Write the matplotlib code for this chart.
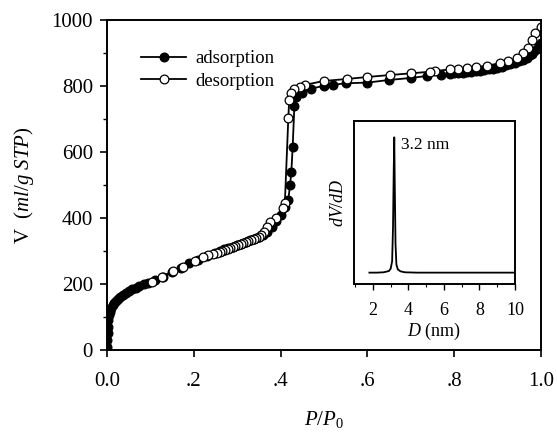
import matplotlib
matplotlib.use("Agg")
import matplotlib.pyplot as plt
from matplotlib.ticker import MultipleLocator, FixedFormatter, FixedLocator

plt.rcParams['font.family'] = ['Liberation Serif', 'DejaVu Serif']
plt.rcParams['mathtext.fontset'] = 'custom'
plt.rcParams['mathtext.rm'] = 'Liberation Serif'
plt.rcParams['mathtext.it'] = 'Liberation Serif:italic'

# adsorption branch (P/P0, V)
ads_p = [0.0, 0.0005, 0.001, 0.0015, 0.002, 0.003, 0.004, 0.006, 0.008, 0.010, 0.013,
         0.016, 0.020, 0.025, 0.030, 0.036, 0.043, 0.050, 0.058, 0.066, 0.075,
         0.085, 0.095, 0.11, 0.13, 0.15, 0.17, 0.19, 0.21, 0.23, 0.25, 0.26,
         0.27, 0.28, 0.29, 0.30, 0.31, 0.32, 0.33, 0.34, 0.35, 0.36, 0.37,
         0.38, 0.39, 0.40, 0.41, 0.418, 0.422, 0.425, 0.428, 0.432, 0.436,
         0.45, 0.47, 0.50, 0.52, 0.55, 0.60, 0.65, 0.70, 0.737, 0.77, 0.79,
         0.80, 0.81, 0.82, 0.83, 0.84, 0.85, 0.86, 0.87, 0.88, 0.89, 0.90,
         0.91, 0.92, 0.93, 0.94, 0.95, 0.96, 0.968, 0.975, 0.98, 0.985, 0.99,
         0.995, 1.0]
ads_v = [0, 10, 30, 50, 70, 90, 105, 115, 122, 128, 135,
         141, 147, 153, 159, 165, 171, 177, 183, 188, 193,
         199, 204, 212, 222, 236, 248, 262, 272, 284, 295, 300,
         305, 309, 313, 318, 322, 327, 332, 337, 342, 348, 358,
         372, 390, 410, 432, 455, 500, 540, 615, 740, 767,
         780, 792, 800, 803, 808, 810, 818, 824, 830, 834, 836,
         838, 839, 840, 842, 843, 845, 846, 848, 850, 852, 855,
         858, 862, 866, 870, 875, 880, 886, 893, 898, 905, 912,
         920, 930]

# desorption branch
des_p = [1.0, 0.987, 0.98, 0.97, 0.96, 0.945, 0.924, 0.906, 0.875, 0.85, 0.83,
         0.81, 0.79, 0.756, 0.744, 0.70, 0.652, 0.60, 0.553, 0.50, 0.456,
         0.445, 0.43, 0.425, 0.42, 0.418, 0.41, 0.405, 0.39, 0.375, 0.368,
         0.362, 0.356, 0.350, 0.344, 0.338, 0.332, 0.326, 0.320, 0.314, 0.308,
         0.302, 0.296, 0.290, 0.284, 0.278, 0.272, 0.266, 0.260, 0.254, 0.245,
         0.233, 0.222, 0.203, 0.176, 0.153, 0.126, 0.103]
des_v = [980, 960, 939, 915, 900, 884, 874, 869, 861, 857, 855,
         852, 850, 845, 843, 838, 833, 827, 821, 815, 803,
         797, 790, 779, 757, 702, 445, 430, 400, 388, 372,
         356, 347, 343, 339, 336, 333, 330, 327, 324, 321,
         318, 315, 312, 309, 306, 303, 300, 298, 295, 292,
         288, 281, 270, 252, 239, 221, 206]

# pore size distribution (inset)
psd_d = [1.8, 2.2, 2.6, 2.9, 3.0, 3.08, 3.13, 3.17, 3.2, 3.23, 3.27, 3.32,
         3.4, 3.55, 3.8, 4.5, 6.0, 8.0, 10.0]
psd_y = [0.07, 0.07, 0.072, 0.08, 0.095, 0.14, 0.35, 0.7, 0.9, 0.6, 0.25, 0.12,
         0.09, 0.078, 0.072, 0.07, 0.07, 0.07, 0.07]

fig = plt.figure(figsize=(5.57, 4.33), dpi=100)
ax = fig.add_axes([0.192, 0.192, 0.779, 0.762])

ax.plot(ads_p, ads_v, color='black', lw=1.3, marker='o', ms=6.3,
        mfc='black', mec='black', mew=0.9, label='adsorption')
ax.plot(des_p, des_v, color='black', lw=1.3, marker='o', ms=6.3,
        mfc='white', mec='black', mew=0.9, label='desorption')

ax.set_xlim(0, 1.0)
ax.set_ylim(0, 1000)
ax.xaxis.set_major_locator(FixedLocator([0, 0.2, 0.4, 0.6, 0.8, 1.0]))
ax.xaxis.set_major_formatter(FixedFormatter(['0.0', '.2', '.4', '.6', '.8', '1.0']))
ax.yaxis.set_major_locator(MultipleLocator(200))
ax.yaxis.set_minor_locator(MultipleLocator(100))
ax.tick_params(which='major', direction='out', length=5, width=1.2, labelsize=15)
ax.tick_params(axis='x', pad=11)
ax.tick_params(axis='y', pad=5)
ax.tick_params(which='minor', direction='out', length=3, width=1)
for s in ax.spines.values():
    s.set_linewidth(1.4)

ax.set_xlabel(r'$\mathit{P/P_0}$', fontsize=15, labelpad=13)
ax.set_ylabel(r'V  $\mathit{(ml/g\ STP)}$', fontsize=15, labelpad=11)

ax.legend(loc='upper left', bbox_to_anchor=(0.04, 0.96), frameon=False,
          fontsize=13.5, handlelength=2.4, handletextpad=0.5, labelspacing=0.3)

# inset
ins = fig.add_axes([0.6355, 0.344, 0.289, 0.3765])
ins.plot(psd_d, psd_y, color='black', lw=1.3)
ins.set_xlim(0.93, 10.0)
ins.set_ylim(0, 1)
ins.xaxis.set_major_locator(MultipleLocator(2))
ins.xaxis.set_minor_locator(MultipleLocator(1))
ins.set_yticks([])
ins.tick_params(which='major', direction='out', length=4, width=1, labelsize=13, pad=9)
ins.tick_params(which='minor', direction='out', length=2.5, width=0.8)
for s in ins.spines.values():
    s.set_linewidth(1.4)
ins.set_xlabel(r'$\mathit{D}$ (nm)', fontsize=13, labelpad=1)
ins.set_ylabel(r'$\mathit{dV/dD}$', fontsize=13, labelpad=5)
ins.text(3.6, 0.85, '3.2 nm', fontsize=12.5, va='center', ha='left')

fig.savefig('out.png', dpi=100)
